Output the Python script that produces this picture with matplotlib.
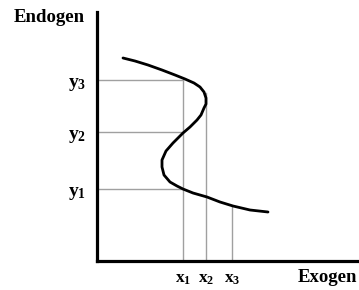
import matplotlib
matplotlib.use("Agg")
import matplotlib.pyplot as plt

# Curve (data units: pixels from axes origin)
curve_x = [26, 38, 51, 65, 78, 88, 97, 103, 107, 109, 109, 107, 104, 100, 93, 86, 76, 69, 65, 65, 67, 73, 80, 86, 96, 110, 123, 136, 153, 171]
curve_y = [203, 200, 196, 191, 186, 182, 178, 174, 169, 163, 157, 153, 146, 141, 134, 128, 118, 110, 101, 94, 86, 79, 75, 72, 68, 64, 59, 55, 51, 49]

y_levels = [72, 129, 181]
y_labels = [r"$\mathrm{y}_1$", r"$\mathrm{y}_2$", r"$\mathrm{y}_3$"]
x_levels = [86, 109, 135]
x_labels = [r"$\mathrm{x}_1$", r"$\mathrm{x}_2$", r"$\mathrm{x}_3$"]
x_line_tops = [181, 168, 54]

plt.rcParams["mathtext.fontset"] = "custom"
plt.rcParams["mathtext.rm"] = "Liberation Serif:bold"
plt.rcParams["mathtext.it"] = "Liberation Serif:bold"
plt.rcParams["mathtext.bf"] = "Liberation Serif:bold"

fig = plt.figure(figsize=(3.59, 2.90), dpi=100)
ax = fig.add_axes([97/359, 29/290, 262/359, 249/290])
ax.set_xlim(0, 262)
ax.set_ylim(0, 249)

grey = "#a0a0a0"
for yl in y_levels:
    ax.plot([0, x_levels[0]], [yl, yl], color=grey, lw=1.0, zorder=1)
for xl, top in zip(x_levels, x_line_tops):
    ax.plot([xl, xl], [0, top], color=grey, lw=1.0, zorder=1)

ax.plot(curve_x, curve_y, color="black", lw=2.0, solid_capstyle="round",
        solid_joinstyle="round", zorder=3)

for s in ["top", "right"]:
    ax.spines[s].set_visible(False)
for s in ["left", "bottom"]:
    ax.spines[s].set_linewidth(2.3)

ax.set_yticks(y_levels, y_labels, fontsize=14)
ax.set_xticks(x_levels, x_labels, fontsize=12.5)
ax.tick_params(axis="y", length=0, pad=8)
ax.tick_params(axis="x", length=0, pad=6)

fig.text(85/359, 1 - 17/290, "Endogen", ha="right", va="center",
         family="Liberation Serif", weight="bold", fontsize=13.5)
fig.text(357/359, 1 - 277/290, "Exogen", ha="right", va="center",
         family="Liberation Serif", weight="bold", fontsize=13.5)

fig.savefig("out.png", dpi=100)
